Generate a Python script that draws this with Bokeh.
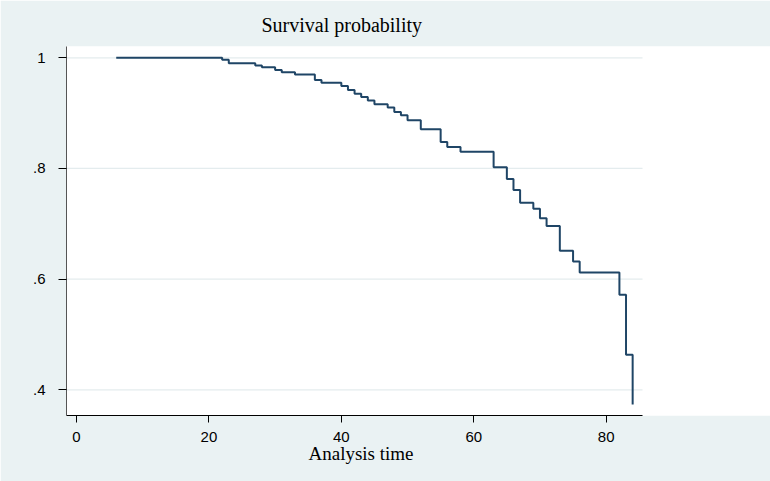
from bokeh.plotting import figure
from bokeh.models import Range1d, FixedTicker, Title
from bokeh.embed import file_html
from bokeh.resources import INLINE

# Kaplan-Meier survival estimate
times = [6, 22, 23, 27, 28, 30, 31, 33, 36, 37, 40, 41, 42, 43, 44, 45, 47, 48, 49, 50,
         52, 55, 56, 58, 63, 65, 66, 67, 69, 70, 71, 73, 75, 76, 82, 83, 84]
survival = [1.0, 0.9965, 0.990, 0.986, 0.983, 0.978, 0.974, 0.970, 0.960, 0.955, 0.949,
            0.942, 0.935, 0.929, 0.923, 0.916, 0.910, 0.902, 0.896, 0.887, 0.871, 0.848,
            0.839, 0.830, 0.802, 0.781, 0.761, 0.738, 0.727, 0.710, 0.696, 0.6515, 0.632,
            0.612, 0.572, 0.4636, 0.3735]

x_ticks = [0, 20, 40, 60, 80]
y_ticks = [0.4, 0.6, 0.8, 1.0]
y_tick_labels = [".4", ".6", ".8", "1"]

title_text = "Survival probability"
x_title = "Analysis time"

BG = "#EAF2F3"
LINE = "#1f4566"

X0, X1 = -1.51, 104.82
Y0, Y1 = 0.3536, 1.0204
AX_END = 85.49

p = figure(width=770, height=481, output_backend="svg", toolbar_location=None,
           x_range=Range1d(X0, X1), y_range=Range1d(Y0, Y1),
           min_border_left=66, min_border_right=0, min_border_top=46, min_border_bottom=66)
p.background_fill_color = "white"
p.border_fill_color = BG
p.outline_line_color = None
p.xgrid.visible = False
p.ygrid.visible = False

# horizontal grid lines ending at the axis extent
p.segment(x0=[X0] * len(y_ticks), x1=[AX_END] * len(y_ticks), y0=y_ticks, y1=y_ticks,
          line_color="#e4ecee", line_width=1.2)

p.step(times, survival, mode="after", line_color=LINE, line_width=2)

xa = p.xaxis[0]
xa.ticker = FixedTicker(ticks=x_ticks)
xa.bounds = (X0, AX_END)
xa.axis_line_color = "black"
xa.major_tick_line_color = "black"
xa.major_tick_out = 7
xa.major_tick_in = 0
xa.minor_tick_line_color = None
xa.major_label_standoff = 9
xa.major_label_text_font = "Liberation Sans"
xa.major_label_text_font_size = "15px"
xa.major_label_text_color = "black"

ya = p.yaxis[0]
ya.ticker = FixedTicker(ticks=y_ticks)
ya.major_label_overrides = {t: s for t, s in zip(y_ticks, y_tick_labels)}
ya.axis_line_color = "#555555"
ya.major_tick_line_color = "black"
ya.major_tick_out = 8
ya.major_tick_in = 0
ya.minor_tick_line_color = None
ya.major_label_standoff = 13
ya.major_label_text_align = "left"
ya.major_label_text_font = "Liberation Sans"
ya.major_label_text_font_size = "15px"
ya.major_label_text_color = "black"

p.add_layout(Title(text=title_text, align="left", offset=195, standoff=22,
                   text_font="Liberation Serif", text_font_size="20px",
                   text_font_style="normal", text_color="black"), "above")
p.add_layout(Title(text=x_title, align="left", offset=242, standoff=-7,
                   text_font="Liberation Serif", text_font_size="19px",
                   text_font_style="normal", text_color="black"), "below")

open("out.html", "w").write(file_html(p, INLINE))
